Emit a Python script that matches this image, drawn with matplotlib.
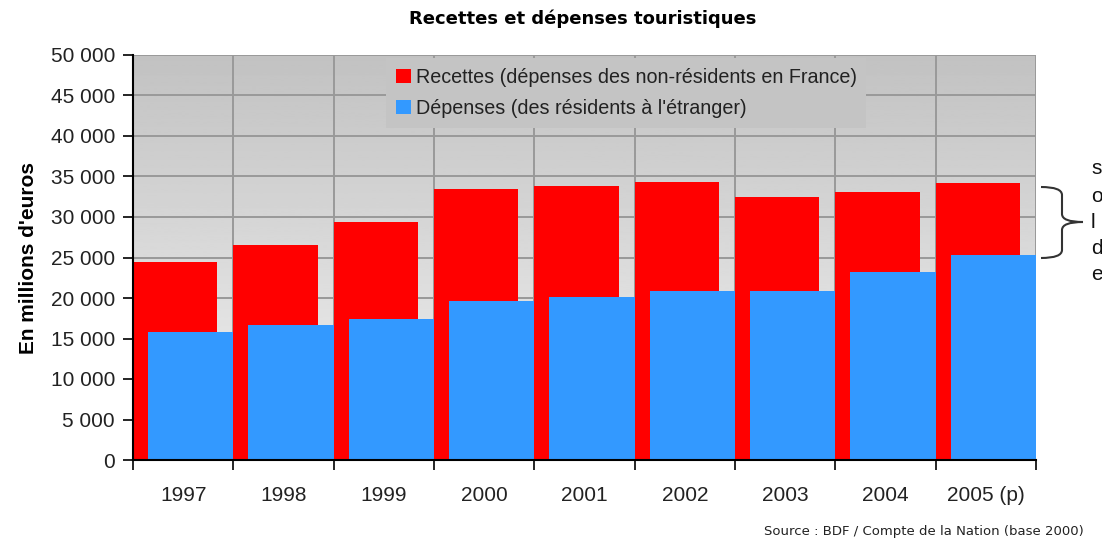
import numpy as np
import matplotlib.pyplot as plt
from matplotlib.path import Path
from matplotlib.patches import PathPatch
from matplotlib.ticker import FuncFormatter

plt.rcParams['font.family'] = ['Liberation Sans', 'DejaVu Sans']

years = ['1997', '1998', '1999', '2000', '2001', '2002', '2003', '2004', '2005 (p)']
recettes = [24400, 26500, 29400, 33500, 33800, 34300, 32500, 33100, 34200]
depenses = [15800, 16700, 17400, 19600, 20100, 20900, 20900, 23200, 25300]

W, H = 1102, 539
fig = plt.figure(figsize=(W / 100, H / 100), dpi=100)
ax = fig.add_axes([133 / W, 1 - 460 / H, (1036 - 133) / W, (460 - 55) / H])

# gradient background
grad = np.linspace(0.76, 0.95, 256).reshape(-1, 1)
ax.imshow(grad, cmap='gray', vmin=0, vmax=1, aspect='auto',
          extent=[0, 1, 0, 1], transform=ax.transAxes, zorder=0, origin='upper')

x = np.arange(len(years))
ax.bar(x, recettes, width=0.84, align='edge', color='#ff0000', zorder=3,
       label='Recettes (dépenses des non-résidents en France)')
ax.bar(x + 0.15, depenses, width=0.85, align='edge', color='#3399ff', zorder=4,
       label='Dépenses (des résidents à l\'étranger)')

ax.set_xlim(0, len(years))
ax.set_ylim(0, 50000)
ax.set_yticks(np.arange(0, 50001, 5000))
ax.yaxis.set_major_formatter(FuncFormatter(lambda v, p: f'{int(v):,}'.replace(',', ' ')))
ax.set_xticks(np.arange(len(years) + 1))
ax.set_xticklabels([])
ax.set_xticks(x + 0.5, minor=True)
ax.set_xticklabels(years, minor=True)
ax.tick_params(axis='x', which='minor', length=0, pad=19, labelsize=15, colors='#222222')
ax.tick_params(axis='x', which='major', length=7, width=1.2, direction='out')
ax.tick_params(axis='y', length=7, width=1.2, labelsize=15, pad=6, labelcolor='#222222')

ax.grid(True, color='#999999', linewidth=1.4, zorder=1)
ax.set_axisbelow(True)
for s in ['top', 'right']:
    ax.spines[s].set_visible(False)
ax.spines['left'].set_linewidth(1.5)
ax.spines['bottom'].set_linewidth(1.5)
ax.spines['left'].set_zorder(5)
ax.spines['bottom'].set_zorder(5)

ax.set_ylabel('En millions d\'euros', fontsize=15, fontweight='bold', labelpad=9)
fig.text(583 / W, 1 - 19 / H, 'Recettes et dépenses touristiques', ha='center', va='center',
         fontsize=13, fontweight='bold', family='DejaVu Sans')

leg = ax.legend(loc='upper left', bbox_to_anchor=(386 / W, 1 - 58 / H), bbox_transform=fig.transFigure,
                fontsize=14.2, frameon=True, facecolor='#c4c4c4', edgecolor='none', framealpha=1,
                handlelength=0.75, handleheight=0.75, handletextpad=0.25, labelspacing=0.6,
                borderpad=0.5, borderaxespad=0, fancybox=False)
leg.set_zorder(6)
for t in leg.get_texts():
    t.set_color('#222222')


# brace on the right
def fx(px):
    return px / W


def fy(py):
    return 1 - py / H


top, bot, mid = 187, 258, 222
xa, xb, xc = 1041, 1062, 1083
r = 8
for end, sgn in [(top, 1), (bot, -1)]:
    verts = [(fx(xa), fy(end)), (fx(xb), fy(end)), (fx(xb), fy(end + sgn * r)),
             (fx(xb), fy(mid - sgn * r)), (fx(xb), fy(mid)), (fx(xc), fy(mid))]
    codes = [Path.MOVETO, Path.CURVE3, Path.CURVE3, Path.LINETO, Path.CURVE3, Path.CURVE3]
    fig.patches.append(PathPatch(Path(verts, codes), transform=fig.transFigure, fill=False,
                                 edgecolor='#333333', linewidth=1.5))

for letter, py in zip(['s', 'o', 'l', 'd', 'e'], [168, 196, 222, 248, 275]):
    fig.text(fx(1091), fy(py), letter, ha='left', va='center', fontsize=15, color='#111111')

fig.text(fx(1084), fy(531), 'Source : BDF / Compte de la Nation (base 2000)', ha='right',
         va='center', fontsize=9.5, color='#222222', family='DejaVu Sans')

fig.savefig('out.png', dpi=100)
